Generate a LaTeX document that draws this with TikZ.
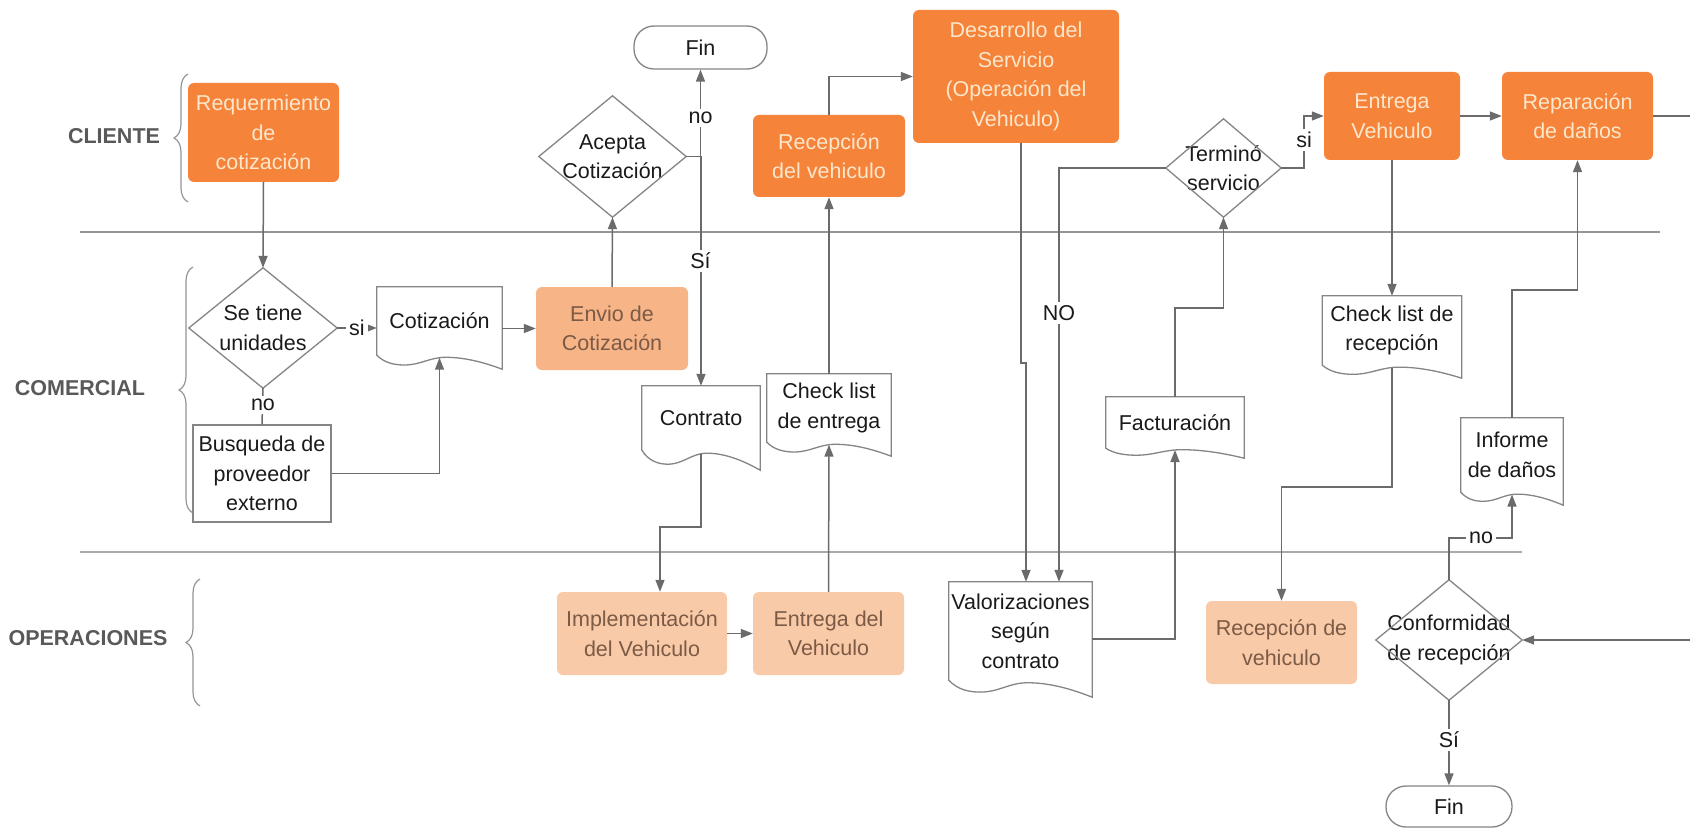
\documentclass[tikz,border=0pt]{standalone}
\usepackage{fontspec}
\setmainfont{Liberation Sans}
\usetikzlibrary{calc,arrows.meta,decorations.pathreplacing}

\definecolor{orangeA}{HTML}{F5843A}
\definecolor{orangeTxt}{HTML}{FCE6CC}
\definecolor{peachA}{HTML}{F6B487}
\definecolor{peachB}{HTML}{F9CAA7}
\definecolor{peachTxt}{HTML}{7B5A46}
\definecolor{lineC}{HTML}{6B6B6B}
\definecolor{shapeC}{HTML}{858585}
\definecolor{laneC}{HTML}{959595}
\definecolor{laneTxt}{HTML}{595959}
\definecolor{inkC}{HTML}{1A1A1A}

% diamond drawn on the vertices of a plain rectangular node
\newcommand\diamondline[1]{%
  \draw[shapeline] (#1.north) -- (#1.east) -- (#1.south) -- (#1.west) -- cycle;}

% document symbol: straight top and sides, wavy bottom hanging #2 below the node
\newcommand\docoutline[2]{%
  \draw[shapeline] (#1.south west) -- (#1.north west) -- (#1.north east)
    -- ($(#1.south east)+(0,#2)$)
    .. controls ($(#1.south west)!0.85!(#1.south east)+(0,0.5*#2)$)
            and ($(#1.south west)!0.70!(#1.south east)+(0,0.15*#2)$)
    .. ($(#1.south west)!0.55!(#1.south east)+(0,0.15*#2)$)
    .. controls ($(#1.south west)!0.42!(#1.south east)+(0,0.15*#2)$)
            and ($(#1.south west)!0.35!(#1.south east)+(0,0.7*#2)$)
    .. ($(#1.south west)!0.22!(#1.south east)+(0,0.7*#2)$)
    .. controls ($(#1.south west)!0.14!(#1.south east)+(0,0.7*#2)$)
            and ($(#1.south west)!0.06!(#1.south east)+(0,0.55*#2)$)
    .. (#1.south west) -- cycle;
  \coordinate (#1-b) at ($(#1.south)+(0,0.18*#2)$);}

\tikzset{
  every node/.style={font=\fontsize{21.5}{29.5}\selectfont, align=center,
    inner sep=0pt, text=inkC},
  hot/.style={rectangle, rounded corners=6pt, fill=orangeA, text=orangeTxt},
  soft/.style={rectangle, rounded corners=6pt, fill=peachB, text=peachTxt},
  plainbox/.style={rectangle, draw=shapeC, line width=1.3pt, fill=white},
  terminal/.style={rectangle, rounded corners=20pt, draw=shapeC, line width=1.3pt, fill=white},
  dia/.style={rectangle},
  docnode/.style={rectangle},
  shapeline/.style={draw=shapeC, line width=1.3pt, line join=miter},
  conn/.style={draw=lineC, line width=1.5pt},
  arr/.style={conn, -{Triangle[length=12pt,width=9pt]}},
  lab/.style={fill=white, inner sep=3pt},
  lanelab/.style={font=\fontsize{21.5}{26}\selectfont\bfseries, text=laneTxt},
  lanebrace/.style={decorate, decoration={brace, amplitude=14pt}, draw=laneC, line width=1.2pt},
  laneline/.style={draw=laneC, line width=1.4pt}
}

\begin{document}
\begin{tikzpicture}[x=1pt, y=-1pt]
\path[use as bounding box, fill=white] (0,0) rectangle (1690,829);

% swimlane separators
\draw[laneline] (80,232) -- (1660,232);
\draw[laneline, draw=laneC!80] (80,552) -- (1522,552);

% lane titles and braces
\node[lanelab] (lclient) at (114,136) {CLIENTE};
\node[lanelab] (lcomer) at (80,388) {COMERCIAL};
\node[lanelab] (loper) at (88,638) {OPERACIONES};
\draw[lanebrace] (188,202) -- (188,74);
\draw[lanebrace] (193,513) -- (193,267);
\draw[lanebrace] (200,706) -- (200,579);

% CLIENTE lane
\node[hot, minimum width=151pt, minimum height=99pt] (req) at (263.5,132.5) {Requermiento\\de\\cotización};
\node[terminal, minimum width=133pt, minimum height=43pt] (fin1) at (700.5,47.5) {Fin};
\node[dia, minimum width=147pt, minimum height=121pt] (acepta) at (612.5,156.5) {Acepta\\Cotización};
\node[hot, minimum width=152pt, minimum height=82pt] (recep1) at (829,156) {Recepción\\del vehiculo};
\node[hot, minimum width=206pt, minimum height=133pt] (desarr) at (1016,76.5) {Desarrollo del\\Servicio\\(Operación del\\Vehiculo)};
\node[dia, minimum width=115pt, minimum height=98pt] (termino) at (1223.5,168) {Terminó\\servicio};
\node[hot, minimum width=136pt, minimum height=88pt] (entrega1) at (1392,116) {Entrega\\Vehiculo};
\node[hot, minimum width=151pt, minimum height=88pt] (repar) at (1577.5,116) {Reparación\\de daños};

% COMERCIAL lane
\node[dia, minimum width=148pt, minimum height=120pt] (setiene) at (263,328) {Se tiene\\unidades};
\node[docnode, minimum width=125pt, minimum height=68pt] (cot) at (439.5,321) {Cotización};
\node[soft, fill=peachA, minimum width=152pt, minimum height=83pt] (envio) at (612,328.5) {Envio de\\Cotización};
\node[plainbox, minimum width=138pt, minimum height=97pt] (busq) at (262,473.5) {Busqueda de\\proveedor\\externo};
\node[docnode, minimum width=118pt, minimum height=64pt] (contrato) at (701,418) {Contrato};
\node[docnode, minimum width=124pt, minimum height=68pt] (cle) at (829,408) {Check list\\de entrega};
\node[docnode, minimum width=138pt, minimum height=51pt] (factur) at (1175,422.5) {Facturación};
\node[docnode, minimum width=139pt, minimum height=69pt] (clr) at (1392,330.5) {Check list de\\recepción};
\node[docnode, minimum width=102pt, minimum height=74pt] (informe) at (1512,455) {Informe\\de daños};

% OPERACIONES lane
\node[soft, minimum width=170pt, minimum height=83pt] (impl) at (642,633.5) {Implementación\\del Vehiculo};
\node[soft, minimum width=151pt, minimum height=83pt] (entrega2) at (828.5,633.5) {Entrega del\\Vehiculo};
\node[docnode, minimum width=143pt, minimum height=98pt] (valor) at (1020.5,631) {Valorizaciones\\según\\contrato};
\node[soft, minimum width=151pt, minimum height=83pt] (recep2) at (1281.5,642.5) {Recepción de\\vehiculo};
\node[dia, minimum width=146pt, minimum height=120pt] (conform) at (1449,640) {Conformidad\\de recepción};
\node[terminal, minimum width=126pt, minimum height=41pt] (fin2) at (1449,806.5) {Fin};

% outlines of decisions and documents
\diamondline{acepta}
\diamondline{termino}
\diamondline{setiene}
\diamondline{conform}
\docoutline{cot}{14}
\docoutline{contrato}{20}
\docoutline{cle}{14}
\docoutline{factur}{10}
\docoutline{clr}{13}
\docoutline{informe}{13}
\docoutline{valor}{17}

% loose ends running past the right border
\coordinate (edgeA) at (1690,116);
\coordinate (edgeB) at (1690,640);

% connectors
\draw[arr] (req.south) -- (setiene.north);
\draw[arr] (setiene.east) -- (setiene.east -| cot.west);
\draw[conn] (setiene.south) -- (busq.north);
\draw[arr] (busq.east) -| (cot-b);
\draw[arr] (cot.east |- envio.west) -- (envio.west);
\draw[arr] (envio.north) -- (acepta.south);
\draw[arr] (acepta.east) -| (fin1.south);
\draw[arr] (acepta.east) -| (contrato.north);
\draw[arr] (contrato-b) |- ($(impl.north)+(18,-65)$) -- ($(impl.north)+(18,0)$);
\draw[arr] (impl.east) -- (entrega2.west);
\draw[arr] (entrega2.north) -- (cle-b);
\draw[arr] (cle.north) -- (recep1.south);
\draw[arr] (recep1.north) |- (desarr.west);
\draw[arr] ($(desarr.south)+(5,0)$) -- ++(0,220) -| ($(valor.north)+(5.5,0)$);
\draw[arr] (termino.west) -| ($(valor.north)+(38.5,0)$);
\draw[arr] ($(valor.east)+(0,8)$) -| (factur-b);
\draw[arr] (factur.north) -- ++(0,-89) -| (termino.south);
\draw[arr] (termino.east) -- ++(23,0) |- (entrega1.west);
\draw[arr] (entrega1.east) -- (repar.west);
\draw[conn] (repar.east) -- (edgeA);
\draw[arr] (edgeB) -- (conform.east);
\draw[arr] (entrega1.south) -- (clr.north);
\draw[arr] (clr-b) |- ($(recep2.north)+(0,-114)$) -- (recep2.north);
\draw[arr] (conform.north) -- ++(0,-42) -| (informe-b);
\draw[arr] (informe.north) -- ++(0,-128) -| (repar.south);
\draw[arr] (conform.south) -- (fin2.north);

% connector labels
\node[lab] (lsi1) at (357,328) {si};
\node[lab] (lno1) at (263,405) {no};
\node[lab] (lno2) at (700.5,118) {no};
\node[lab] (lsi2) at (700.5,261) {Sí};
\node[lab] (lno3) at (1059,313) {NO};
\node[lab] (lsi3) at (1304,140) {si};
\node[lab] (lno4) at (1481,538) {no};
\node[lab] (lsi4) at (1449,740) {Sí};
\end{tikzpicture}
\end{document}
